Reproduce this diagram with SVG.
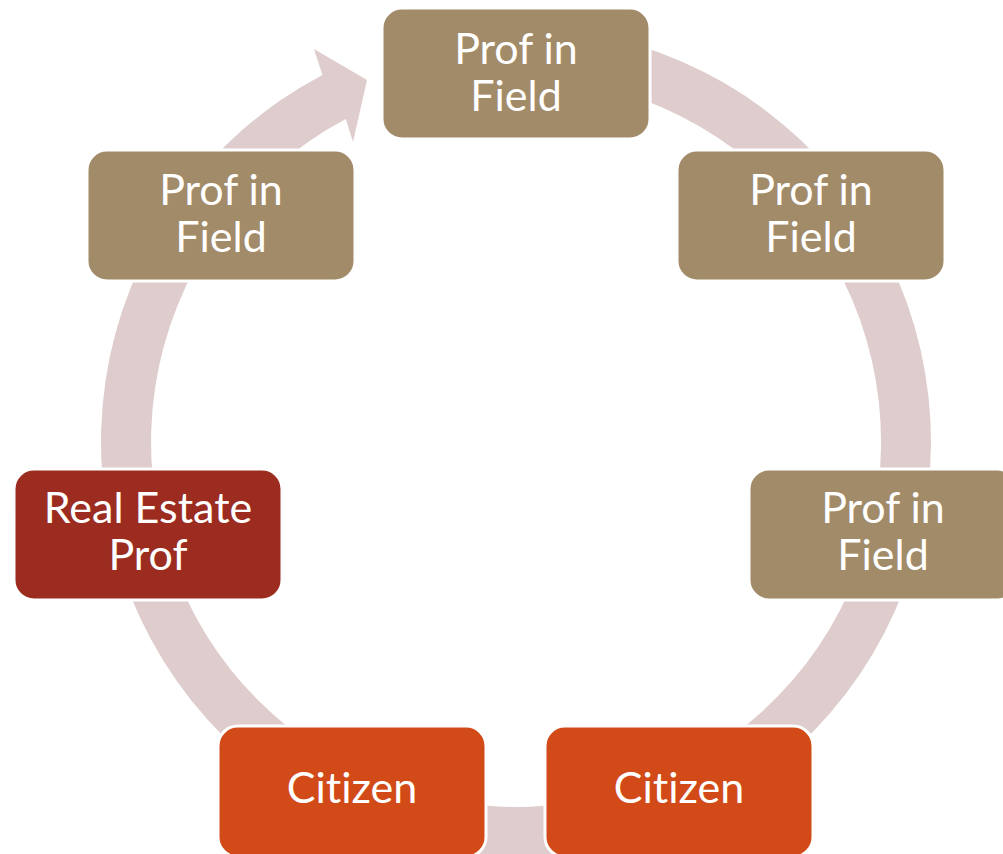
<svg xmlns="http://www.w3.org/2000/svg" width="1003" height="854" viewBox="0 0 1003 854">
  <style>
    .n rect { stroke: #ffffff; stroke-width: 3; }
    .tan rect { fill: #a28b69; }
    .red rect { fill: #9b2c1f; }
    .org rect { fill: #d24a18; }
    .n text { font-family: Lato, "Open Sans", sans-serif; font-size: 43px; fill: #ffffff; text-anchor: middle; font-variant-ligatures: none; font-feature-settings: "liga" 0; }
    .ring { fill: #dfcdce; }
  </style>
  <rect width="1003" height="854" fill="#ffffff"/>
  <g id="connectors">
    <path class="ring" d="M588.1,33.3 A415,415 0 1 1 322.4,74.9 L314,49 L367,80 L353,142 L345.8,119.1 A365,365 0 1 0 579.4,82.5 Z"/>
  </g>
  <g id="node-top" class="n tan">
    <rect x="382" y="8" width="268" height="131" rx="20"/>
    <text x="516" y="64">Prof in</text>
    <text x="516" y="111">Field</text>
  </g>
  <g id="node-right-upper" class="n tan">
    <rect x="677" y="150" width="268" height="131" rx="20"/>
    <text x="811" y="205">Prof in</text>
    <text x="811" y="252">Field</text>
  </g>
  <g id="node-right" class="n tan">
    <rect x="749" y="469" width="268" height="131" rx="20"/>
    <text x="883" y="523">Prof in</text>
    <text x="883" y="570">Field</text>
  </g>
  <g id="node-citizen-right" class="n org">
    <rect x="545" y="726" width="268" height="131" rx="20"/>
    <text x="679" y="803">Citizen</text>
  </g>
  <g id="node-citizen-left" class="n org">
    <rect x="218" y="726" width="268" height="131" rx="20"/>
    <text x="352" y="803">Citizen</text>
  </g>
  <g id="node-real-estate" class="n red">
    <rect x="14" y="469" width="268" height="131" rx="20"/>
    <text x="148" y="523">Real Estate</text>
    <text x="148" y="570">Prof</text>
  </g>
  <g id="node-left-upper" class="n tan">
    <rect x="87" y="150" width="268" height="131" rx="20"/>
    <text x="221" y="205">Prof in</text>
    <text x="221" y="252">Field</text>
  </g>
</svg>
